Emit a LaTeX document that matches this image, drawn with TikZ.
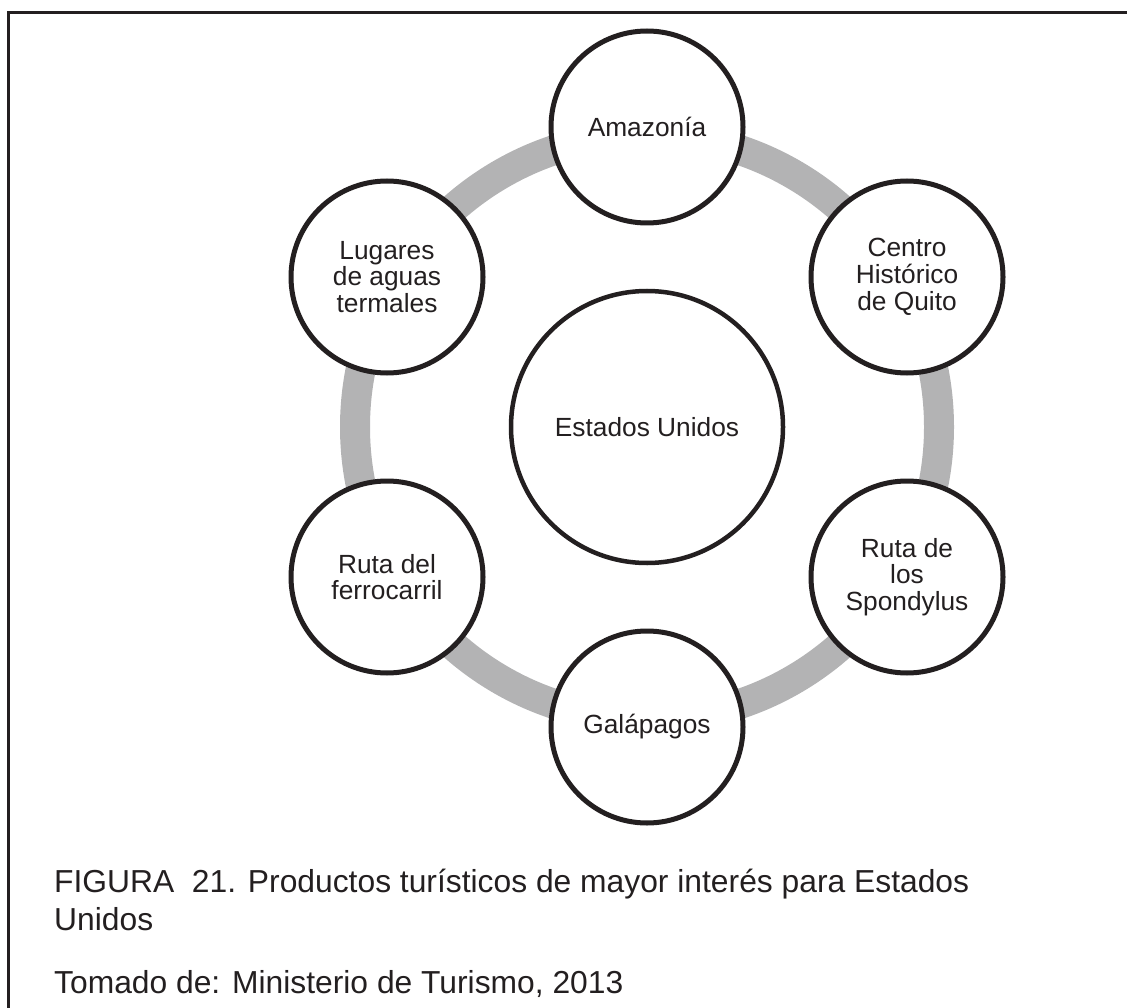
\documentclass[tikz,border=0pt]{standalone}
\usepackage{fontspec}
\setmainfont{Liberation Sans}
\definecolor{ink}{RGB}{35,31,32}
\definecolor{ringgray}{RGB}{179,179,180}
\begin{document}
\begin{tikzpicture}[x=1pt,y=-1pt,
  small/.style={circle, draw=ink, line width=5pt, fill=white, minimum size=192pt, inner sep=0pt, align=center, text=ink, font=\fontsize{26.3}{26.7}\selectfont},
  big/.style={small, minimum size=272pt, line width=4.5pt},
  captext/.style={anchor=base west, text=ink, inner sep=0pt, font=\fontsize{31.8}{38}\selectfont}]
\useasboundingbox (0,0) rectangle (1127,1008);
\draw[ink, line width=3pt] (8,1012) -- (8,13) -- (1131,13);
\coordinate (c) at (647,427);
\draw[ringgray, line width=30pt] (c) circle[radius=292pt];
\node[big] (us) at (c) {Estados Unidos};
\node[small] (ama) at (647,127) {Amazonía};
\node[small] (cen) at (907,277) {Centro\\Histórico\\de Quito};
\node[small] (spo) at (907,577) {Ruta de\\los\\Spondylus};
\node[small] (gal) at (647,727) {Galápagos};
\node[small] (fer) at (387,577) {Ruta del\\ferrocarril};
\node[small] (lug) at (387,277) {Lugares\\de aguas\\termales};
\node[captext] (cap1) at (54,892) {FIGURA\ \ 21. Productos turísticos de mayor interés para Estados};
\node[captext] (cap2) at (54,930) {Unidos};
\node[captext] (cap3) at (54,993) {Tomado de: Ministerio de Turismo, 2013};
\end{tikzpicture}
\end{document}
